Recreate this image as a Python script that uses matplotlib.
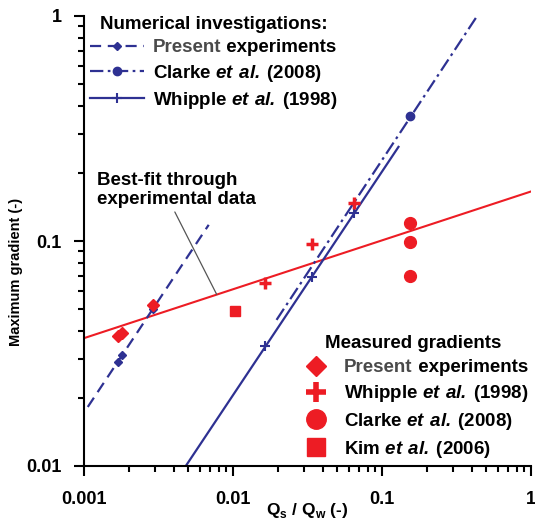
import matplotlib
matplotlib.use('Agg')
import matplotlib.pyplot as plt
from matplotlib.lines import Line2D
from matplotlib import ticker

plt.rcParams['font.family'] = ['Liberation Sans', 'DejaVu Sans']
plt.rcParams['font.weight'] = 'bold'
plt.rcParams['axes.labelweight'] = 'bold'
plt.rcParams['mathtext.fontset'] = 'custom'
plt.rcParams['mathtext.rm'] = 'Liberation Sans:bold'
plt.rcParams['mathtext.bfit'] = 'Liberation Sans:italic:bold'

RED = '#ED1C24'
BLUE = '#2E3192'
LEG_FS = 13.5

# Measured maximum gradients
present_qs = [0.0017, 0.0018, 0.0029]
present_meas = [0.038, 0.039, 0.052]
whipple_qs = [0.0163, 0.0337, 0.0653]
whipple_meas = [0.065, 0.097, 0.147]
clarke_qs = [0.155, 0.155, 0.155]
clarke_meas = [0.070, 0.099, 0.120]
kim_qs = [0.0103]
kim_meas = [0.049]

# Numerical investigations
present_num = [0.029, 0.031, 0.050]
whipple_num = [0.034, 0.069, 0.133]
clarke_num_qs = [0.155]
clarke_num = [0.36]

# extent of the numerical trend lines
present_line_qs = [0.00106, 0.00687]
present_line_g = [0.0183, 0.118]
clarke_line_qs = [0.0196, 0.435]
clarke_line_g = [0.0446, 1.0]
whipple_line_qs = [0.00482, 0.129]
whipple_line_g = [0.01, 0.262]

# best-fit through the experimental data
fit_qs = [0.001, 1.0]
fit_g = [0.037, 0.166]

fig = plt.figure(figsize=(5.35, 5.2), dpi=100)
ax = fig.add_axes([84 / 535, 54 / 520, 447 / 535, 450 / 520])
ax.set_xscale('log')
ax.set_yscale('log')
ax.set_xlim(0.001, 1)
ax.set_ylim(0.01, 1)

# trend lines
ax.plot(fit_qs, fit_g, color=RED, lw=1.5, zorder=2)
ax.plot(present_line_qs, present_line_g, color=BLUE, lw=1.6, dashes=(5, 3), zorder=2)
ax.plot(clarke_line_qs, clarke_line_g, color=BLUE, lw=1.6, dashes=(6, 2, 1.2, 2), zorder=2)
ax.plot(whipple_line_qs, whipple_line_g, color=BLUE, lw=1.6, zorder=2)

# numerical points
ax.plot(present_qs, present_num, ls='none', marker='D', ms=4, color=BLUE, zorder=3)
ax.plot(clarke_num_qs, clarke_num, ls='none', marker='o', ms=6, color=BLUE, zorder=3)
ax.plot(whipple_qs, whipple_num, ls='none', marker='+', ms=7, mew=1.5, color=BLUE, zorder=3)

# measured points
ax.plot(present_qs, present_meas, ls='none', marker='D', ms=6, color=RED, zorder=4)
ax.plot(whipple_qs, whipple_meas, ls='none', marker='+', ms=9, mew=2.5, color=RED, zorder=4)
ax.plot(clarke_qs, clarke_meas, ls='none', marker='o', ms=8.5, color=RED, zorder=4)
ax.plot(kim_qs, kim_meas, ls='none', marker='s', ms=7.5, color=RED, zorder=4)

# best-fit label with leader line
ax.text(0.00122, 0.168, 'Best-fit through\nexperimental data', fontsize=13.5,
        ha='left', va='center', linespacing=1.15)
ax.annotate('', xy=(0.00778, 0.0578), xytext=(0.00407, 0.1346),
            arrowprops=dict(arrowstyle='-', color='#555555', lw=0.9,
                            shrinkA=0, shrinkB=0))

# axes styling
for side in ['top', 'right']:
    ax.spines[side].set_visible(False)
for side in ['left', 'bottom']:
    ax.spines[side].set_linewidth(1.5)
ax.tick_params(which='major', direction='out', length=7, width=1.5, labelsize=13)
ax.tick_params(which='minor', direction='out', length=4.5, width=1.5)
ax.tick_params(axis='x', which='major', pad=11)
ax.tick_params(axis='y', which='major', pad=9)
ax.xaxis.set_major_formatter(ticker.FuncFormatter(lambda v, _: f'{v:g}'))
ax.yaxis.set_major_formatter(ticker.FuncFormatter(lambda v, _: f'{v:g}'))
ax.xaxis.set_minor_formatter(ticker.NullFormatter())
ax.yaxis.set_minor_formatter(ticker.NullFormatter())

ax.set_xlabel(r'Q$_\mathregular{s}$ / Q$_\mathregular{w}$ (-)', fontsize=12.5)
ax.set_ylabel('Maximum gradient (-)', fontsize=10.5)
ax.xaxis.set_label_coords(0.50, -0.078)
ax.yaxis.set_label_coords(-0.137, 0.432)


def grey_present(leg, idx):
    # "Present" is printed in dark grey, "experiments" follows in black
    txt = leg.get_texts()[idx]
    txt.set_color('#4a4a4a')
    ax.annotate(' experiments', xy=(1, 0), xycoords=txt, ha='left', va='bottom',
                color='black', fontsize=LEG_FS, zorder=6, annotation_clip=False)


num_handles = [
    Line2D([], [], color=BLUE, lw=1.6, dashes=(5, 3), marker='D', ms=4),
    Line2D([], [], color=BLUE, lw=1.6, dashes=(6, 2, 1.2, 2), marker='o', ms=6),
    Line2D([], [], color=BLUE, lw=1.6, marker='+', ms=7, mew=1.5),
]
num_labels = ['Present', r'Clarke $\mathbfit{et\ al.}\,$(2008)',
              r'Whipple $\mathbfit{et\ al.}\,$(1998)']
leg1 = ax.legend(num_handles, num_labels, title='Numerical investigations:',
                 loc='upper left', bbox_to_anchor=(0.013, 1.0), frameon=False,
                 fontsize=LEG_FS, title_fontproperties={'size': LEG_FS, 'weight': 'bold'},
                 handlelength=2.9, handletextpad=0.45, labelspacing=0.33,
                 borderpad=0, borderaxespad=0)
ax.add_artist(leg1)

meas_handles = [
    Line2D([], [], ls='none', color=RED, marker='D', ms=10),
    Line2D([], [], ls='none', color=RED, marker='+', ms=15, mew=4),
    Line2D([], [], ls='none', color=RED, marker='o', ms=14),
    Line2D([], [], ls='none', color=RED, marker='s', ms=13),
]
meas_labels = ['Present', r'Whipple $\mathbfit{et\ al.}\,$(1998)',
               r'Clarke $\mathbfit{et\ al.}\,$(2008)', r'Kim $\mathbfit{et\ al.}\,$(2006)']
leg2 = ax.legend(meas_handles, meas_labels, title='Measured gradients',
                 loc='upper left', bbox_to_anchor=(0.477, 0.29), frameon=False,
                 fontsize=LEG_FS, title_fontproperties={'size': LEG_FS, 'weight': 'bold'},
                 handlelength=2.0, handletextpad=0.5, labelspacing=0.36,
                 borderpad=0, borderaxespad=0)

grey_present(leg1, 0)
grey_present(leg2, 0)

fig.savefig('out.png', dpi=100)
